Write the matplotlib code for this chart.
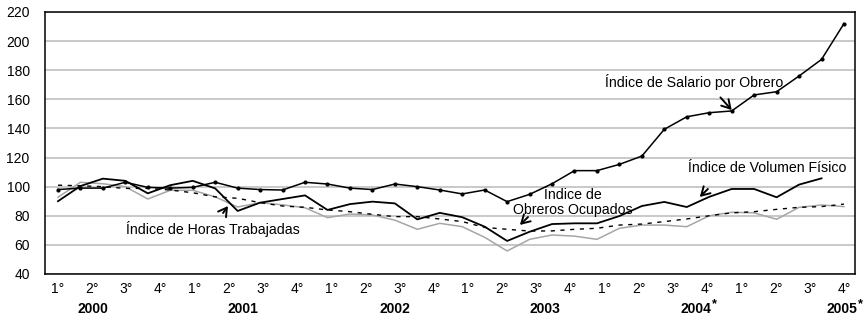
import matplotlib
matplotlib.use("Agg")
import matplotlib.pyplot as plt
import numpy as np

plt.rcParams['font.family'] = ['Liberation Sans', 'DejaVu Sans']

# series values (36 points, 2000 - 2005)
salario = [98, 99, 99, 103, 99.5, 99, 99.5, 103, 99, 98, 97.7, 103,
           101.8, 99, 98, 101.8, 100, 97.7, 95, 97.7, 89.7, 94.7, 102, 111,
           111, 115.3, 121, 139.4, 148, 150.8, 152, 163, 165.2, 176, 187.4, 212]
volumen = [90, 100.4, 105.5, 104, 95.4, 101, 104, 98.8, 83.3, 89, 91.5, 94,
           84, 88, 89.7, 88.5, 77.5, 82, 79, 72.5, 62.7, 69, 74.3, 74.8,
           74.8, 79.8, 86.7, 89.5, 86, 93, 98.4, 98.4, 92.7, 101.4, 105.7]
horas = [92.7, 103, 102, 100, 91.5, 97.5, 97.5, 93, 86, 89, 87.5, 85.5,
         78.7, 81.2, 80.5, 77, 70.7, 74.8, 72.5, 65.2, 55.8, 63.8, 66.8, 66,
         63.8, 71.4, 73.6, 73.6, 72.5, 80, 82.4, 82, 77.6, 85.8, 87.4, 86.3]
obreros = [101, 100.6, 100, 98.8, 98.8, 97.7, 95.8, 93, 92, 89, 86.7, 85.8,
           84, 82.8, 81, 79.4, 79.4, 77.8, 76, 72, 70.7, 69.5, 69.6, 70.7,
           71.4, 73.6, 74.3, 76, 77.8, 80, 82, 82.8, 84.4, 85.8, 86.3, 88]

quarters = ["1°", "2°", "3°", "4°"] * 6
years = ["2000", "2001", "2002", "2003", "2004", "2005"]
starred = [False, False, False, False, True, True]
year_pos = [1.56, 8.24, 15.0, 21.7, 28.4, 34.9]

fig = plt.figure(figsize=(8.68, 3.15), dpi=100)
ax = fig.add_axes([0.0518, 0.1302, 0.9332, 0.8318])

ax.plot(np.arange(len(horas)), horas, color='#a6a6a6', lw=1.1)
ax.plot(np.arange(len(obreros)), obreros, color='black', lw=1.0,
        linestyle=(0, (3, 4)))
ax.plot(np.arange(len(volumen)), volumen, color='black', lw=1.3)
ax.plot(np.arange(len(salario)), salario, color='black', lw=1.1,
        marker='o', markersize=2)

ax.set_xlim(-0.58, 35.49)
ax.set_ylim(40, 220)
ax.set_yticks(np.arange(40, 221, 20))
ax.yaxis.grid(True, color='#c0c0c0', lw=1.2)
ax.set_axisbelow(True)
ax.tick_params(axis='y', length=0, labelsize=10, pad=11)
ax.tick_params(axis='x', length=0, labelsize=10, pad=6)
ax.set_xticks(np.linspace(0, 35, 24))
ax.set_xticklabels(quarters)
for s in ax.spines.values():
    s.set_color('black')
    s.set_linewidth(1.1)

for yp, yl, st in zip(year_pos, years, starred):
    ax.text(yp, -0.135, yl, transform=ax.get_xaxis_transform(), ha='center',
            va='center', fontsize=10, fontweight='bold')
    if st:
        ax.annotate("*", xy=(yp, -0.135), xycoords=ax.get_xaxis_transform(),
                    xytext=(11.5, 4), textcoords='offset points', ha='left',
                    va='center', fontsize=9, fontweight='bold',
                    annotation_clip=False)

arr = dict(arrowstyle='->, head_length=0.6, head_width=0.35', color='black',
           lw=1.4, shrinkA=0, shrinkB=0)
fs = 10.2
ax.text(24.35, 171.9, "Índice de Salario por Obrero", fontsize=fs, va='center')
ax.annotate("", xy=(30.0, 152.6), xytext=(29.5, 161.3), arrowprops=arr)

ax.text(28.05, 112.8, "Índice de Volumen Físico", fontsize=fs, va='center')
ax.annotate("", xy=(28.58, 92.9), xytext=(28.94, 98.4), arrowprops=arr)

ax.text(22.93, 89.2, "Índice de\nObreros Ocupados", fontsize=fs, va='center',
        ha='center', linespacing=1.1)
ax.annotate("", xy=(20.57, 73.7), xytext=(20.93, 79.1), arrowprops=arr)

ax.text(3.03, 70.9, "Índice de Horas Trabajadas", fontsize=fs, va='center')
ax.annotate("", xy=(7.57, 86.7), xytext=(7.35, 81.9), arrowprops=arr)

fig.savefig("out.png", dpi=100)
